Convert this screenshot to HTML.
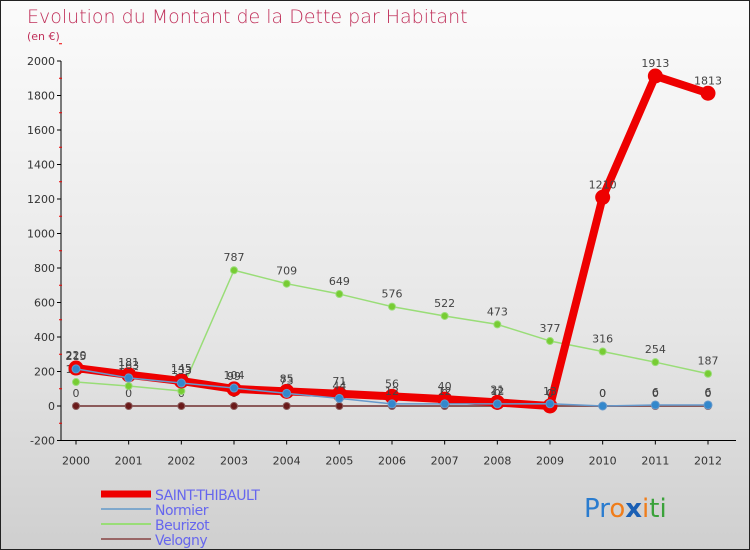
<!DOCTYPE html>
<html><head><meta charset="utf-8"><style>
body{margin:0;}
#wrap{position:relative;width:748px;height:548px;border:1px solid #222;background:linear-gradient(#fbfbfb,#e6e6e6 60%,#cfcfcf);font-family:"DejaVu Sans","Liberation Sans",sans-serif;overflow:hidden}
text{font-family:"DejaVu Sans","Liberation Sans",sans-serif}
</style></head><body>
<div id="wrap">
<svg id="chart" width="748" height="548">
<text x="26" y="22" font-size="19" fill="#c0305a" style="font-weight:200">Evolution du Montant de la Dette par Habitant</text>
<text x="26" y="39" font-size="11" fill="#c0305a">(en €)</text>
<g id="axes"></g><g id="series"></g><g id="legend"></g>
<text x="583" y="516" font-size="26" font-family="Liberation Sans"><tspan fill="#2a7ccf">Pr</tspan><tspan fill="#f07d1a">o</tspan><tspan fill="#1a5fb4" font-weight="bold">x</tspan><tspan fill="#f07d1a">i</tspan><tspan fill="#3aa23a">ti</tspan></text>
</svg>
</div>
<script>
const years=[2000,2001,2002,2003,2004,2005,2006,2007,2008,2009,2010,2011,2012];
const yTicks=[-200,0,200,400,600,800,1000,1200,1400,1600,1800,2000];
const saint=[220,181,145,99,85,71,56,40,21,0,1210,1913,1813];
const normier=[215,163,133,104,73,44,12,12,12,13,0,6,6];
const beurizot=[139,116,87,787,709,649,576,522,473,377,316,254,187];
const velogny=[0,0,0,0,0,0,0,0,0,0,0,0,0];
const NS="http://www.w3.org/2000/svg";
const X=i=>75+i*(707-75)/12;
const Y=v=>405-v*(345/2000);
function mk(t,a,p){const e=document.createElementNS(NS,t);for(const k in a)e.setAttribute(k,a[k]);p.appendChild(e);return e;}
const ax=document.getElementById('axes');
const yl=mk('line',{x1:60,x2:60,y1:Y(2000),y2:Y(-200),stroke:'#000'},ax);


mk('line',{x1:60,x2:735,y1:Y(-200),y2:Y(-200),stroke:'#000'},ax);
yTicks.forEach(v=>{
 mk('line',{x1:56,x2:60,y1:Y(v),y2:Y(v),stroke:'#000'},ax);
 mk('line',{x1:58,x2:61,y1:Y(v+100),y2:Y(v+100),stroke:'#e00'},ax);
 const t=mk('text',{x:54,y:Y(v)+4,'font-size':11,'text-anchor':'end',fill:'#333'},ax);t.textContent=v;
 
 
});
years.forEach((y,i)=>{
 mk('line',{x1:X(i),x2:X(i),y1:Y(-200),y2:Y(-200)+4,stroke:'#000'},ax);
 const t=mk('text',{x:X(i),y:Y(-200)+24,'font-size':11,'text-anchor':'middle',fill:'#333'},ax);t.textContent=y;
 
 
});
const sg=document.getElementById('series');
function series(vals,color,w,r,dot,name){
 const g=mk('g',{},sg);
 
 
 mk('polyline',{points:vals.map((v,i)=>X(i)+','+Y(v)).join(' '),fill:'none',stroke:color,'stroke-width':w,'stroke-linejoin':'round'},g);
 vals.forEach((v,i)=>{
  const c=mk('circle',{cx:X(i),cy:Y(v),r:r,fill:dot,stroke:color,'stroke-width':1},g);
  
  
  const t=mk('text',{x:X(i),y:Y(v)-9,'font-size':11,'text-anchor':'middle',fill:'#444'},g);t.textContent=v;
 });
}
series(velogny,'#8b5a5a',2,3.5,'#6a1a1a','velogny');
series(beurizot,'#99dd77',1.5,3.5,'#77cc33','beurizot');
series(saint,'#ee0000',8,7,'#ee0000','saint-thibault');
series(normier,'#6699cc',1.5,4,'#3388cc','normier');
const lg=document.getElementById('legend');
const names=['SAINT-THIBAULT','Normier','Beurizot','Velogny'];
const cols=['#ee0000','#7fa8cc','#99dd77','#996666'];
const ws=[7,2,2,2];
names.forEach((n,i)=>{
 const y=493+i*15;
 mk('line',{x1:100,x2:150,y1:y,y2:y,stroke:cols[i],'stroke-width':ws[i]},lg);
 const t=mk('text',{x:154,y:y+6,'font-size':14,fill:'#6666ee','letter-spacing':'-0.5'},lg);t.textContent=n;
 
 
});
</script>
</body></html>
